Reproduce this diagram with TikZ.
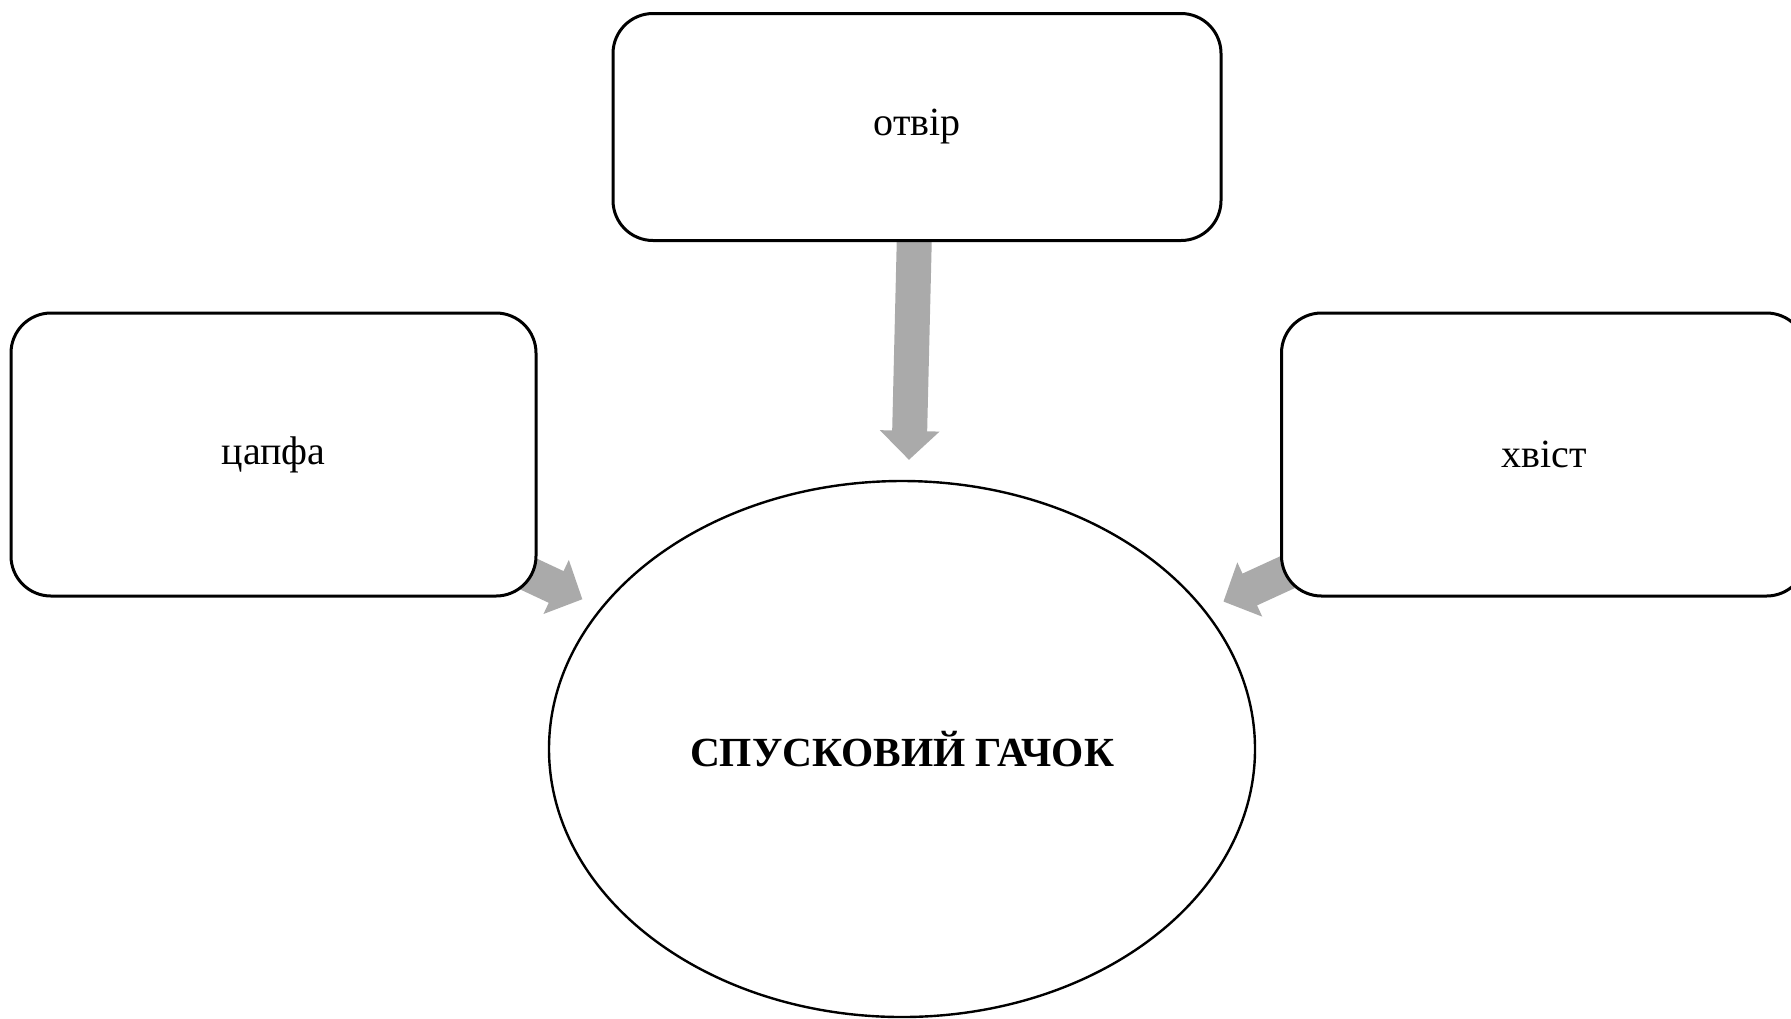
\documentclass[tikz,border=0pt]{standalone}
\usepackage{fontspec}
\setmainfont{Liberation Serif}
\usetikzlibrary{shapes.geometric,arrows.meta,backgrounds}
\definecolor{feedgray}{RGB}{170,170,170}
\tikzset{
	partbox/.style={draw, line width=1.5pt, rounded corners=20pt, fill=white, minimum width=262.5pt, minimum height=141.5pt, font=\fontsize{20pt}{24pt}\selectfont},
	hookellipse/.style={ellipse, draw, line width=1.2pt, fill=white, inner sep=0pt, minimum width=353pt, minimum height=268pt, font=\fontsize{20.7pt}{24pt}\selectfont\bfseries},
	feed/.style={draw=feedgray, line width=17.5pt, -{Triangle[length=14.5pt,width=29pt]}, shorten >=10pt}
}
\begin{document}
\begin{tikzpicture}[x=0.5pt, y=-0.5pt]
	\useasboundingbox (0,0) rectangle (1791,1018);
	\node[partbox, minimum width=304pt, minimum height=113.5pt] (hole) at (917,127) {отвір};
	\node[partbox] (pin) at (273.5,454.5) {цапфа};
	\node[partbox] (tail) at (1544,454.5) {хвіст};
	\node[hookellipse] (hook) at (902,749) {СПУСКОВИЙ ГАЧОК};

	\begin{scope}[on background layer]
		\draw[feed] (hole.center) -- (hook);
		\draw[feed] (pin.center) -- (hook);
		\draw[feed] (tail.center) -- (hook);
	\end{scope}
\end{tikzpicture}
\end{document}
